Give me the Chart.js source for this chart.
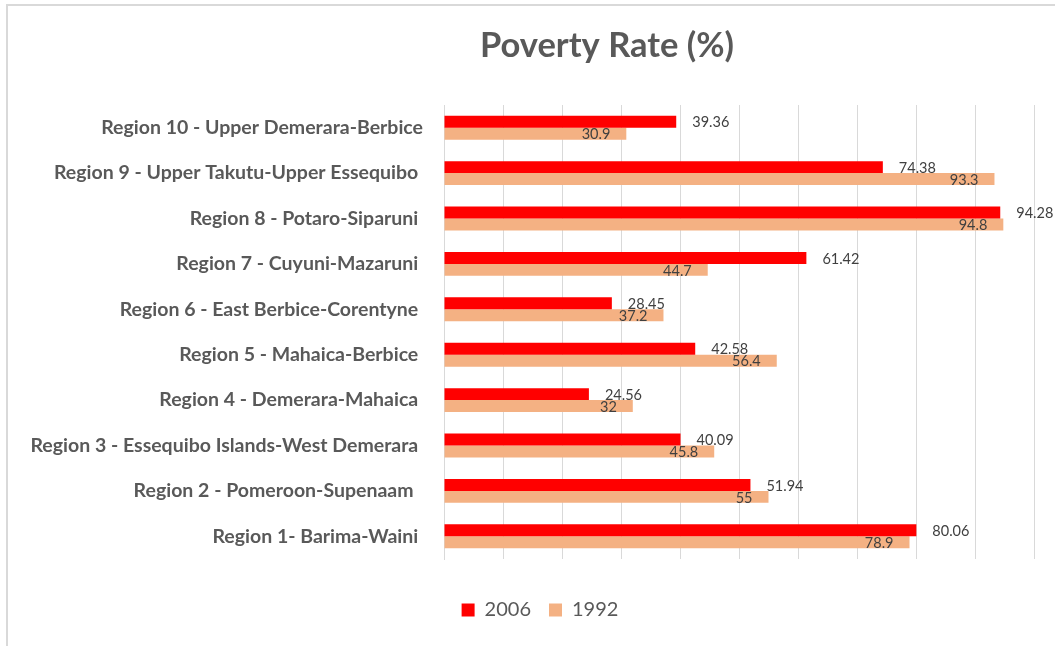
<!DOCTYPE html>
<html>
<head>
<meta charset="utf-8">
<script src="https://cdn.jsdelivr.net/npm/chart.js@4.4.1/dist/chart.umd.min.js"></script>
<style>
  html, body { margin: 0; padding: 0; background: #ffffff; }
  #wrap { position: relative; width: 1055px; height: 646px; overflow: hidden; }
  #frame { position: absolute; left: 6px; top: 4px; width: 1100px; height: 700px;
           border-top: 2px solid #d9d9d9; border-left: 2px solid #d9d9d9; box-sizing: border-box; }
  #c { position: absolute; left: 0; top: 0; }
</style>
</head>
<body>
<div id="wrap">
  <div id="frame"></div>
  <canvas id="c" width="1055" height="646"></canvas>
</div>
<script>
// ---- Data (top to bottom as shown) ----
const categories = [
  "Region 10 - Upper Demerara-Berbice",
  "Region 9 - Upper Takutu-Upper Essequibo ",
  "Region 8 - Potaro-Siparuni ",
  "Region 7 - Cuyuni-Mazaruni ",
  "Region 6 - East Berbice-Corentyne ",
  "Region 5 - Mahaica-Berbice ",
  "Region 4 - Demerara-Mahaica ",
  "Region 3 - Essequibo Islands-West Demerara ",
  "Region 2 - Pomeroon-Supenaam  ",
  "Region 1- Barima-Waini "
];
const values2006 = [39.36, 74.38, 94.28, 61.42, 28.45, 42.58, 24.56, 40.09, 51.94, 80.06];
const values1992 = [30.9, 93.3, 94.8, 44.7, 37.2, 56.4, 32, 45.8, 55, 78.9];
const seriesNames = ["2006", "1992"];
const chartTitle = "Poverty Rate (%)";

const GREY = "#595959";

const titlePlugin = {
  id: 'customTitle',
  afterDraw(chart) {
    const ctx = chart.ctx;
    ctx.save();
    ctx.font = "bold 34.5px Lato";
    ctx.fillStyle = GREY;
    ctx.textAlign = "center";
    ctx.textBaseline = "middle";
    ctx.fillText(chartTitle, 607, 46);
    ctx.restore();
  }
};

const legendShift = {
  id: 'legendShift',
  afterLayout(chart) {
    if (chart.legend) { chart.legend.left += 18; chart.legend.right += 18; }
  }
};

const labelPlugin = {
  id: 'barLabels',
  afterDatasetsDraw(chart) {
    const ctx = chart.ctx;
    ctx.save();
    ctx.font = "14.5px Lato";
    ctx.fillStyle = "#404040";
    ctx.textBaseline = "middle";
    chart.data.datasets.forEach((ds, di) => {
      const meta = chart.getDatasetMeta(di);
      meta.data.forEach((bar, i) => {
        const txt = String(ds.data[i]);
        if (di === 0) {
          ctx.textAlign = "left";
          ctx.fillText(txt, bar.x + 16, bar.y + 1);
        } else {
          ctx.textAlign = "right";
          ctx.fillText(txt, bar.x - 16, bar.y + 1);
        }
      });
    });
    ctx.restore();
  }
};

new Chart(document.getElementById('c'), {
  type: 'bar',
  data: {
    labels: categories,
    datasets: [
      { label: seriesNames[0], data: values2006, backgroundColor: "#ff0000", borderWidth: 0,
        categoryPercentage: 0.526, barPercentage: 1.0 },
      { label: seriesNames[1], data: values1992, backgroundColor: "#f4b183", borderWidth: 0,
        categoryPercentage: 0.526, barPercentage: 1.0 }
    ]
  },
  options: {
    indexAxis: 'y',
    responsive: false,
    animation: false,
    layout: { padding: { left: 10, right: 21, top: 105, bottom: 16 } },
    scales: {
      x: {
        min: 0, max: 100,
        ticks: { display: false, stepSize: 10 },
        grid: { color: "#d9d9d9", lineWidth: 1, drawTicks: false },
        border: { display: false },
        afterFit(scale) { scale.height = 23; }
      },
      y: {
        ticks: { color: GREY, font: { family: "Lato", size: 19.5, weight: "bold" }, padding: 21, autoSkip: false },
        grid: { display: false, drawTicks: false },
        border: { display: true, color: "#d9d9d9", width: 1 },
        afterFit(scale) { scale.width = 434; }
      }
    },
    plugins: {
      title: { display: false },
      tooltip: { enabled: false },
      legend: {
        display: true,
        position: 'bottom',
        labels: { boxWidth: 13, boxHeight: 13, color: GREY, font: { family: "Lato", size: 20 }, padding: 18 }
      }
    }
  },
  plugins: [titlePlugin, labelPlugin, legendShift]
});
</script>
</body>
</html>
